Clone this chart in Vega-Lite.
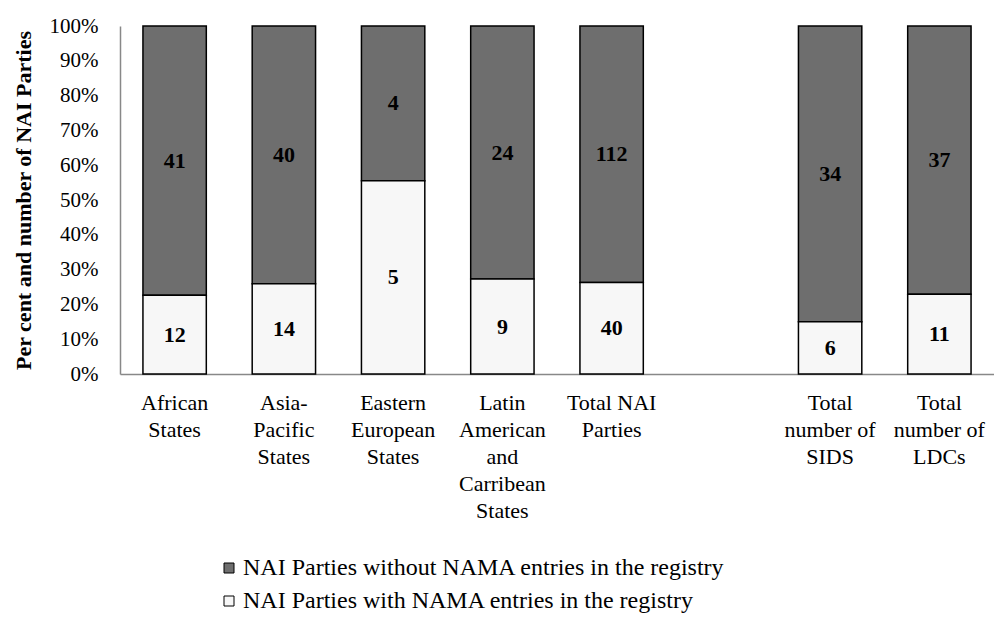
{
  "$schema": "https://vega.github.io/schema/vega-lite/v6.json",
  "autosize": {"type": "none"},
  "width": 874,
  "height": 348,
  "padding": {"left": 120, "top": 26, "right": 0, "bottom": 250},
  "background": "white",
  "config": {
    "view": {"stroke": null},
    "font": "Liberation Serif",
    "axisY": {"labelOverlap": false, "labelSeparation": 0}
  },
  "datasets": {
    "parties": [
      {"cat": "African|States", "group": "NAI Parties without NAMA entries in the registry", "count": 41},
      {"cat": "African|States", "group": "NAI Parties with NAMA entries in the registry", "count": 12},
      {"cat": "Asia-|Pacific|States", "group": "NAI Parties without NAMA entries in the registry", "count": 40},
      {"cat": "Asia-|Pacific|States", "group": "NAI Parties with NAMA entries in the registry", "count": 14},
      {"cat": "Eastern|European|States", "group": "NAI Parties without NAMA entries in the registry", "count": 4},
      {"cat": "Eastern|European|States", "group": "NAI Parties with NAMA entries in the registry", "count": 5},
      {"cat": "Latin|American|and|Carribean|States", "group": "NAI Parties without NAMA entries in the registry", "count": 24},
      {"cat": "Latin|American|and|Carribean|States", "group": "NAI Parties with NAMA entries in the registry", "count": 9},
      {"cat": "Total NAI|Parties", "group": "NAI Parties without NAMA entries in the registry", "count": 112},
      {"cat": "Total NAI|Parties", "group": "NAI Parties with NAMA entries in the registry", "count": 40},
      {"cat": "Total|number of|SIDS", "group": "NAI Parties without NAMA entries in the registry", "count": 34},
      {"cat": "Total|number of|SIDS", "group": "NAI Parties with NAMA entries in the registry", "count": 6},
      {"cat": "Total|number of|LDCs", "group": "NAI Parties without NAMA entries in the registry", "count": 37},
      {"cat": "Total|number of|LDCs", "group": "NAI Parties with NAMA entries in the registry", "count": 11}
    ]
  },
  "data": {"name": "parties"},
  "transform": [
    {"stack": "count", "groupby": ["cat"], "offset": "normalize", "sort": [{"field": "group", "order": "ascending"}], "as": ["s0", "s1"]},
    {"calculate": "(datum.s0 + datum.s1) / 2", "as": "mid"}
  ],
  "resolve": {"axis": {"y": "independent"}},
  "encoding": {
    "x": {
      "field": "cat",
      "type": "nominal",
      "sort": null,
      "scale": {
        "domain": ["African|States", "Asia-|Pacific|States", "Eastern|European|States", "Latin|American|and|Carribean|States", "Total NAI|Parties", " ", "Total|number of|SIDS", "Total|number of|LDCs"],
        "paddingInner": 0.42,
        "paddingOuter": 0.21
      },
      "axis": {
        "title": null,
        "labelAngle": 0,
        "labelExpr": "split(datum.label, '|')",
        "labelFont": "Liberation Serif",
        "labelFontWeight": 400,
        "labelFontSize": 22,
        "labelColor": "black",
        "labelLineHeight": 27,
        "labelPadding": 18,
        "labelBaseline": "top",
        "ticks": false,
        "domainColor": "#888888",
        "domainWidth": 1.5
      }
    }
  },
  "layer": [
    {
      "mark": {"type": "bar", "stroke": "black", "strokeWidth": 1.5},
      "encoding": {
        "y": {
          "field": "s0",
          "type": "quantitative",
          "scale": {"domain": [0, 1], "nice": false, "zero": true},
          "axis": {
            "title": "Per cent and number of NAI Parties",
            "titleFont": "Liberation Serif",
            "titleFontSize": 22,
            "titleFontWeight": "bold",
            "titleColor": "black",
            "titlePadding": 14,
            "format": ".0%",
            "values": [0, 0.1, 0.2, 0.3, 0.4, 0.5, 0.6, 0.7, 0.8, 0.9, 1],
            "labelOverlap": false,
            "labelSeparation": 0,
            "labelFont": "Liberation Serif",
            "labelFontWeight": 400,
            "labelFontSize": 21,
            "labelColor": "black",
            "labelPadding": 22,
            "ticks": false,
            "grid": false,
            "domainColor": "#888888",
            "domainWidth": 1.5
          }
        },
        "y2": {"field": "s1"},
        "color": {
          "field": "group",
          "type": "nominal",
          "scale": {
            "domain": ["NAI Parties without NAMA entries in the registry", "NAI Parties with NAMA entries in the registry"],
            "range": ["#6e6e6e", "#f7f7f7"]
          },
          "legend": {
            "title": null,
            "orient": "none",
            "legendX": 97,
            "legendY": 530,
            "direction": "vertical",
            "symbolType": "square",
            "symbolSize": 100,
            "symbolStrokeColor": "black",
            "symbolStrokeWidth": 1,
            "symbolOpacity": 1,
            "labelFont": "Liberation Serif",
            "labelFontWeight": 400,
            "labelFontSize": 24,
            "labelColor": "black",
            "labelLimit": 0,
            "labelOffset": 2,
            "rowPadding": 9
          }
        }
      }
    },
    {
      "mark": {"type": "text", "font": "Liberation Serif", "fontSize": 22, "fontWeight": "bold", "color": "black", "baseline": "middle"},
      "encoding": {
        "y": {"field": "mid", "type": "quantitative", "axis": null},
        "text": {"field": "count", "type": "quantitative"}
      }
    }
  ]
}
